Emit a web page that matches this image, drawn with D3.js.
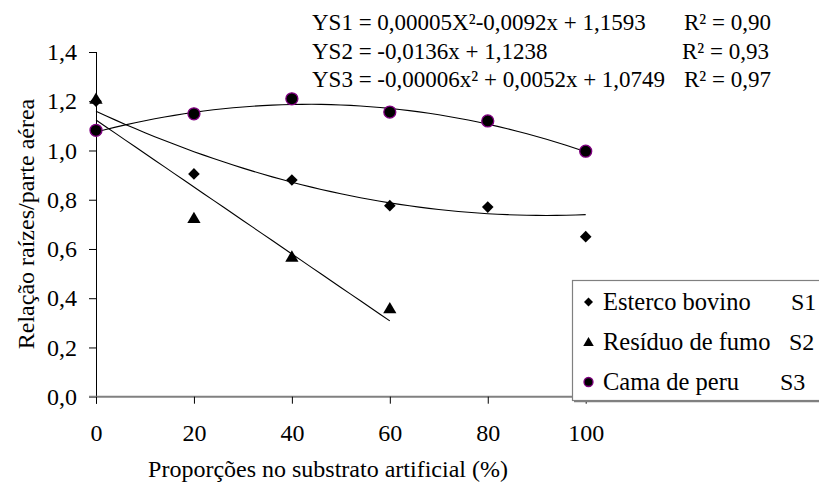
<!DOCTYPE html>
<html>
<head>
<meta charset="utf-8">
<script src="https://cdn.jsdelivr.net/npm/d3@7"></script>
</head>
<body style="margin:0">
<script>
const width = 819, height = 488;
const FONT = "Liberation Serif";

// Data
const proportions = [0, 20, 40, 60, 80, 100];
const esterco = [1.20, 0.905, 0.88, 0.776, 0.77, 0.65];
const residuoX = [0, 20, 40, 60];
const residuo = [1.21, 0.726, 0.569, 0.359];
const cama = [1.082, 1.149, 1.21, 1.156, 1.12, 0.997];

// trend line coefficients [a, b, c] for a*x^2 + b*x + c, and fitted x range
const trendS1 = [0.00005, -0.0092, 1.1593];
const trendS2 = [0, -0.0136, 1.1238];
const trendS3 = [-0.00006, 0.0052, 1.0749];
const trendRanges = [[0, 100], [0, 60], [0, 100]];

const equations = [
  "YS1 = 0,00005X²-0,0092x + 1,1593",
  "YS2 = -0,0136x + 1,1238",
  "YS3 = -0,00006x² + 0,0052x + 1,0749"
];
const r2Labels = ["R² = 0,90", "R² = 0,93", "R² = 0,97"];
const legendNames = ["Esterco bovino", "Resíduo de fumo", "Cama de peru"];
const legendCodes = ["S1", "S2", "S3"];
const xTicks = [0, 20, 40, 60, 80, 100];
const yTicks = [0, 0.2, 0.4, 0.6, 0.8, 1.0, 1.2, 1.4];

const svg = d3.select("body").append("svg")
  .attr("width", width)
  .attr("height", height);

const xScale = d3.scaleLinear().domain([0, 100]).range([96, 585.7]);
const yScale = d3.scaleLinear().domain([0, 1.4]).range([396.7, 52]);
const fmt = d => d3.format(".1f")(d).replace(".", ",");

function addText(g, x, y, t, size) {
  return g.append("text")
    .attr("x", x).attr("y", y)
    .attr("font-family", FONT)
    .attr("font-size", size)
    .attr("fill", "#000")
    .text(t);
}

// y axis
const yAxis = d3.axisLeft(yScale).tickValues(yTicks).tickSize(7).tickFormat(fmt);
const yg = svg.append("g").attr("transform", "translate(96,0)").call(yAxis);
yg.attr("font-family", FONT).attr("font-size", 24);
yg.select(".domain").attr("stroke", "#000").attr("d", `M0.5,${yScale(1.4)}V${yScale(0) + 7}`);
yg.selectAll(".tick line").attr("stroke", "#000");
yg.selectAll(".tick text")
  .attr("x", -19)
  .attr("fill", "#000");

// x axis
const xAxis = d3.axisBottom(xScale).tickValues(xTicks).tickSize(7).tickFormat(d3.format("d"));
const xg = svg.append("g").attr("transform", `translate(0,${yScale(0)})`).call(xAxis);
xg.attr("font-family", FONT).attr("font-size", 24);
xg.select(".domain").attr("stroke", "#808080").attr("stroke-width", 2)
  .attr("d", `M89,0H700`);
xg.selectAll(".tick line").attr("stroke", "#000");
xg.selectAll(".tick text")
  .attr("y", 27)
  .attr("fill", "#000");

// axis titles
addText(svg, 328, 477, "Proporções no substrato artificial (%)", 24)
  .attr("text-anchor", "middle");

addText(svg, 0, 0, "Relação raízes/parte aérea", 24)
  .attr("transform", "translate(34,224) rotate(-90)")
  .attr("text-anchor", "middle");

// trend lines
const line = d3.line().x(d => xScale(d[0])).y(d => yScale(d[1]));
[trendS1, trendS2, trendS3].forEach((c, i) => {
  const r = trendRanges[i];
  const pts = d3.range(r[0], r[1] + 0.1, 2).map(x => [x, c[0] * x * x + c[1] * x + c[2]]);
  svg.append("path")
    .attr("d", line(pts))
    .attr("fill", "none")
    .attr("stroke", "#000")
    .attr("stroke-width", 1.1);
});

// markers
function drawDiamond(g, x, y, s) {
  g.append("path")
    .attr("d", `M${x},${y - s}L${x + s},${y}L${x},${y + s}L${x - s},${y}Z`)
    .attr("fill", "#000");
}
function drawTriangle(g, x, y, s) {
  g.append("path")
    .attr("d", `M${x},${y - s}L${x + s * 1.05},${y + s * 0.8}L${x - s * 1.05},${y + s * 0.8}Z`)
    .attr("fill", "#000");
}
function drawCircle(g, x, y, r) {
  g.append("circle")
    .attr("cx", x).attr("cy", y).attr("r", r)
    .attr("fill", "#000")
    .attr("stroke", "#800080")
    .attr("stroke-width", 1.3);
}

const marks = svg.append("g");
proportions.forEach((p, i) => drawCircle(marks, xScale(p), yScale(cama[i]), 6));
proportions.forEach((p, i) => drawDiamond(marks, xScale(p), yScale(esterco[i]), 5.8));
residuoX.forEach((p, i) => drawTriangle(marks, xScale(p), yScale(residuo[i]), 6.3));

// equations
const eq = svg.append("g");
equations.forEach((t, i) => {
  addText(eq, 312, 30 + i * 28.5, t, 23);
  addText(eq, i === 1 ? 682 : 684, 30 + i * 28.5, r2Labels[i], 23);
});

// legend
const lg = svg.append("g");
lg.append("rect")
  .attr("x", 572.5).attr("y", 280.5)
  .attr("width", 260).attr("height", 120)
  .attr("fill", "#fff")
  .attr("stroke", "#808080")
  .attr("stroke-width", 1.2);
lg.append("line")
  .attr("x1", 574).attr("x2", 830)
  .attr("y1", 401.5).attr("y2", 401.5)
  .attr("stroke", "#808080").attr("stroke-width", 1.5);

const rowY = [302, 342, 382];
drawDiamond(lg, 588.5, rowY[0], 4.5);
drawTriangle(lg, 588.5, rowY[1], 5);
drawCircle(lg, 588.5, rowY[2], 4.5);
legendNames.forEach((t, i) => {
  addText(lg, 603, rowY[i] + 8, t, 24.5);
  addText(lg, [791, 789, 780][i], rowY[i] + 8, legendCodes[i], 24);
});
</script>
</body>
</html>
